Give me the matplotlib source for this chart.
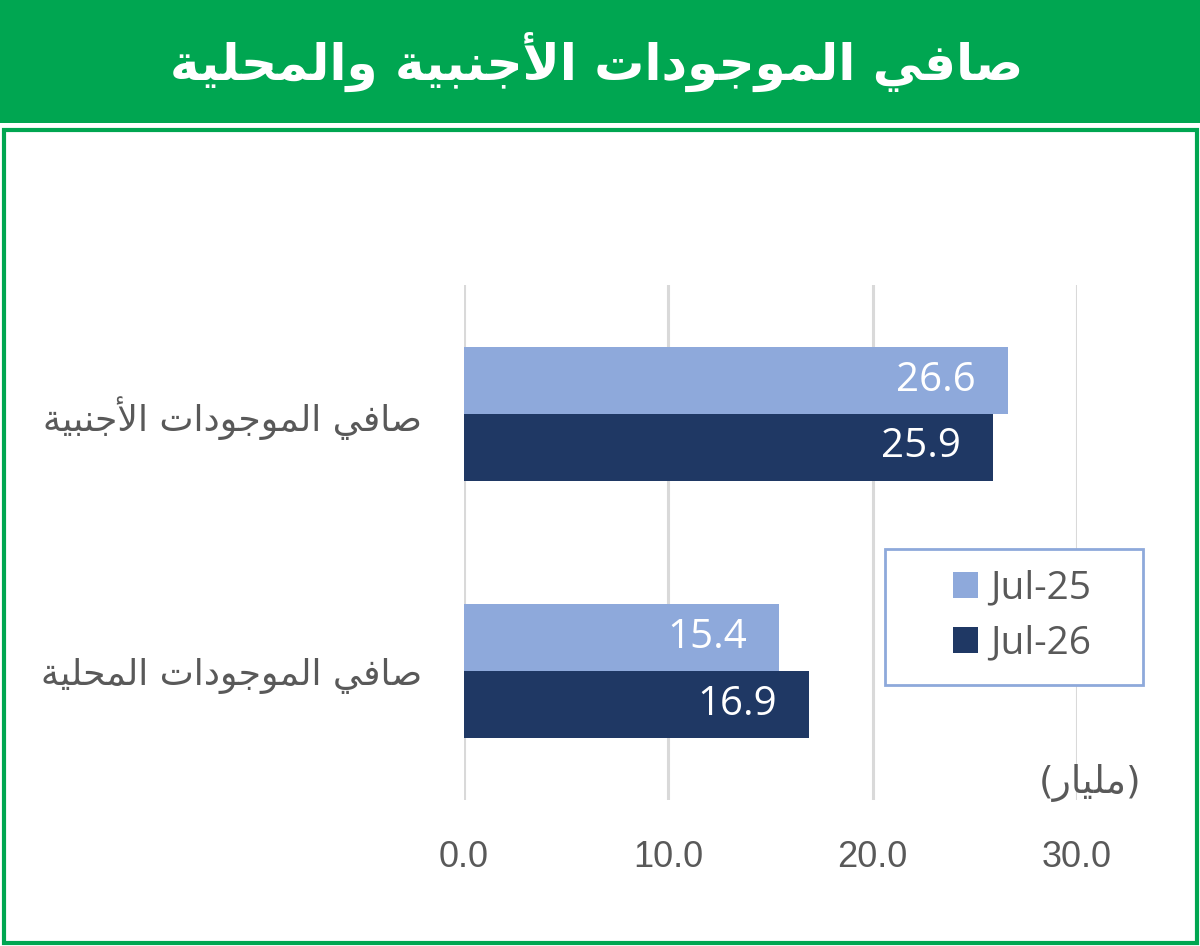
import matplotlib
matplotlib.use("Agg")
import matplotlib.pyplot as plt
from matplotlib.patches import Rectangle
import numpy as np

# ---- data ----
title = "صافي الموجودات الأجنبية والمحلية"
categories = ["صافي الموجودات الأجنبية", "صافي الموجودات المحلية"]
series_names = ["Jul-25", "Jul-26"]
jul25 = [26.6, 15.4]
jul26 = [25.9, 16.9]
unit = "مليار"
xticks = [0, 10, 20, 30]

colors = ["#8EA9DB", "#1F3864"]
green = "#00A651"
gray = "#595959"

# ---- minimal arabic shaping (presentation forms) + visual order ----
FORMS = {  # isolated, final, initial, medial
    "ا": ("\uFE8D", "\uFE8E", None, None),
    "أ": ("\uFE83", "\uFE84", None, None),
    "ب": ("\uFE8F", "\uFE90", "\uFE91", "\uFE92"),
    "ة": ("\uFE93", "\uFE94", None, None),
    "ت": ("\uFE95", "\uFE96", "\uFE97", "\uFE98"),
    "ج": ("\uFE9D", "\uFE9E", "\uFE9F", "\uFEA0"),
    "ح": ("\uFEA1", "\uFEA2", "\uFEA3", "\uFEA4"),
    "د": ("\uFEA9", "\uFEAA", None, None),
    "ر": ("\uFEAD", "\uFEAE", None, None),
    "ص": ("\uFEB9", "\uFEBA", "\uFEBB", "\uFEBC"),
    "ف": ("\uFED1", "\uFED2", "\uFED3", "\uFED4"),
    "ل": ("\uFEDD", "\uFEDE", "\uFEDF", "\uFEE0"),
    "م": ("\uFEE1", "\uFEE2", "\uFEE3", "\uFEE4"),
    "ن": ("\uFEE5", "\uFEE6", "\uFEE7", "\uFEE8"),
    "و": ("\uFEED", "\uFEEE", None, None),
    "ي": ("\uFEF1", "\uFEF2", "\uFEF3", "\uFEF4"),
}
LAM_ALEF = {"ا": ("\uFEFB", "\uFEFC"), "أ": ("\uFEF7", "\uFEF8")}


def joins_next(c):
    return c in FORMS and FORMS[c][2] is not None


def shape(text):
    out = []
    i = 0
    n = len(text)
    while i < n:
        c = text[i]
        if c not in FORMS:
            out.append(c)
            i += 1
            continue
        prev = text[i - 1] if i > 0 else ""
        conn_prev = joins_next(prev)
        if c == "ل" and i + 1 < n and text[i + 1] in LAM_ALEF:
            out.append(LAM_ALEF[text[i + 1]][1 if conn_prev else 0])
            i += 2
            continue
        nxt = text[i + 1] if i + 1 < n else ""
        conn_next = joins_next(c) and nxt in FORMS
        iso, fin, ini, med = FORMS[c]
        if conn_prev and conn_next:
            out.append(med)
        elif conn_prev:
            out.append(fin)
        elif conn_next:
            out.append(ini)
        else:
            out.append(iso)
        i += 1
    return "".join(out[::-1])


# ---- figure ----
fig = plt.figure(figsize=(12, 9.46), dpi=100)

# title band + frame
fig.patches.append(Rectangle((0, 1 - 123 / 946), 1, 123 / 946, transform=fig.transFigure,
                             facecolor=green, edgecolor="none", zorder=0))
fig.patches.append(Rectangle((3.5 / 1200, 3.5 / 946), 1 - 7 / 1200, (946 - 130 - 3.5) / 946,
                             transform=fig.transFigure, facecolor="none",
                             edgecolor=green, linewidth=3, zorder=0))
fig.text(0.497, 1 - 62 / 946, shape(title), color="white", fontsize=36,
         fontweight="bold", family="DejaVu Sans", ha="center", va="center")

ax = fig.add_axes([464 / 1200, 1 - 800 / 946, 613 / 1200, 515 / 946])
y = np.arange(len(categories))
h = 0.26
b1 = ax.barh(y - h / 2, jul25, height=h, color=colors[0], label=series_names[0], zorder=2)
b2 = ax.barh(y + h / 2, jul26, height=h, color=colors[1], label=series_names[1], zorder=2)

for bars in (b1, b2):
    ax.bar_label(bars, labels=[f"{v:.1f}" for v in bars.datavalues], padding=-23,
                 color="white", fontsize=29, family="Open Sans")
for t in ax.texts:
    t.set_ha("right")

ax.set_xlim(0, 30)
ax.set_ylim(len(categories) - 0.5, -0.5)
ax.set_xticks(xticks)
ax.set_xticklabels([f"{v:.1f}" for v in xticks], family="Liberation Sans",
                   fontsize=26, color=gray)
ax.tick_params(axis="x", length=0, pad=29)
ax.set_yticks(y)
ax.set_yticklabels([shape(c) for c in categories], family="DejaVu Sans",
                   fontsize=26, color=gray)
ax.tick_params(axis="y", length=0, pad=30)
ax.grid(axis="x", color="#D9D9D9", linewidth=2.2, zorder=0)
for s in ax.spines.values():
    s.set_visible(False)

fig.text(1090 / 1200, 1 - 783 / 946, "(" + shape(unit) + ")", family="DejaVu Sans",
         fontsize=27, color=gray, ha="center", va="center")

# legend box drawn separately (wide padding in the reference)
fig.patches.append(Rectangle((885 / 1200, 1 - 685 / 946), 258 / 1200, 136 / 946,
                             transform=fig.transFigure, facecolor="white",
                             edgecolor=colors[0], linewidth=2, zorder=3))
leg = fig.legend(handles=[b1, b2], loc="center", bbox_to_anchor=(1022 / 1200, 1 - 616 / 946),
                 prop={"family": "Open Sans", "size": 28}, frameon=False,
                 handlelength=0.65, handleheight=0.65, handletextpad=0.3,
                 labelspacing=0.45, borderpad=0, borderaxespad=0)
leg.set_zorder(4)
for t in leg.get_texts():
    t.set_color(gray)

fig.savefig("out.png", dpi=100)
